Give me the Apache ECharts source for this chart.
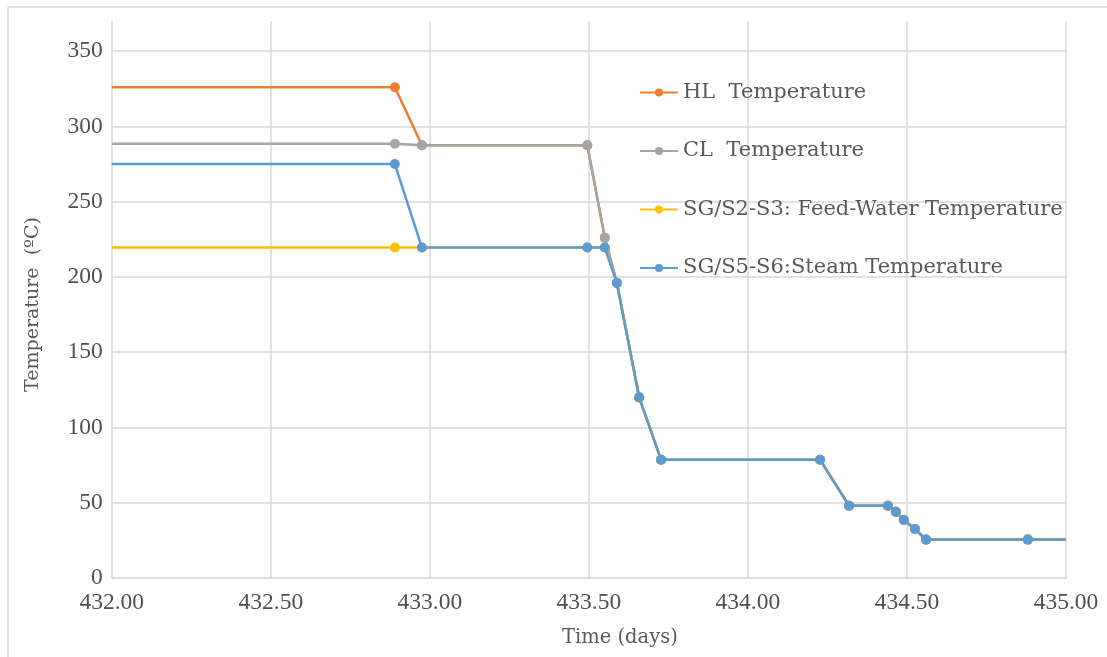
<!DOCTYPE html>
<html>
<head>
<meta charset="utf-8">
<script src="https://cdn.jsdelivr.net/npm/echarts@6/dist/echarts.min.js"></script>
<style>html,body{margin:0;padding:0;background:#fff}#c{width:1107px;height:657px}</style>
</head>
<body>
<div id="c"></div>
<script>
// Data
const time = [432.00, 432.89, 432.975, 433.495, 433.55, 433.588, 433.658, 433.727, 434.227, 434.318, 434.44, 434.465, 434.49, 434.525, 434.56, 434.88, 435.00];
const hlTemp    = [326, 326, 287.5, 287.5, 226, 196, 120, 78.5, 78.5, 48, 48, 44, 38.5, 32.5, 25.5, 25.5, 25.5];
const clTemp    = [288.5, 288.5, 287.5, 287.5, 226, 196, 120, 78.5, 78.5, 48, 48, 44, 38.5, 32.5, 25.5, 25.5, 25.5];
const feedTemp  = [219.5, 219.5, 219.5, 219.5, 219.5, 196, 120, 78.5, 78.5, 48, 48, 44, 38.5, 32.5, 25.5, 25.5, 25.5];
const steamTemp = [275, 275, 219.5, 219.5, 219.5, 196, 120, 78.5, 78.5, 48, 48, 44, 38.5, 32.5, 25.5, 25.5, 25.5];
const seriesNames = ['HL  Temperature', 'CL  Temperature', 'SG/S2-S3: Feed-Water Temperature', 'SG/S5-S6:Steam Temperature'];
const seriesColors = ['#ED7D31', '#A5A5A5', '#FFC000', '#5B9BD5'];
const xTicks = [432, 432.5, 433, 433.5, 434, 434.5, 435];
const yTicks = [0, 50, 100, 150, 200, 250, 300, 350];

const chart = echarts.init(document.getElementById('c'), null, {renderer: 'canvas'});
const serif = '"Liberation Serif", "DejaVu Serif", serif';
const wideSerif = '"DejaVu Serif", "Liberation Serif", serif';

function build(temps, idx) {
  return {
    name: seriesNames[idx],
    type: 'line',
    symbol: 'circle',
    symbolSize: 10,
    color: seriesColors[idx],
    lineStyle: {width: 2.5, color: seriesColors[idx]},
    itemStyle: {color: seriesColors[idx]},
    z: 2 + idx,
    data: time.map((t, i) => {
      const item = {value: [t, temps[i]]};
      if (i === 0 || i === time.length - 1) item.symbolSize = 0;
      return item;
    })
  };
}

const splitColors = yTicks.map(() => '#D9D9D9').concat(['rgba(0,0,0,0)']);

chart.setOption({
  backgroundColor: '#fff',
  animation: false,
  grid: {left: 111.8, right: 41, top: 21, bottom: 79},
  legend: {
    orient: 'vertical',
    left: 634,
    top: 77,
    itemWidth: 38,
    itemHeight: 10,
    itemGap: 37.5,
    textStyle: {fontFamily: wideSerif, fontSize: 21, color: '#595959'},
    data: seriesNames
  },
  xAxis: {
    type: 'value',
    min: xTicks[0],
    max: xTicks[xTicks.length - 1],
    interval: 0.5,
    name: 'Time (days)',
    nameLocation: 'middle',
    nameGap: 50,
    nameTextStyle: {fontFamily: wideSerif, fontSize: 19.5, color: '#595959', padding: [0, 0, 0, 62]},
    axisLine: {lineStyle: {color: '#D9D9D9', width: 1.5}},
    axisTick: {show: false},
    axisLabel: {fontFamily: serif, fontSize: 23.5, color: '#505050', margin: 13, formatter: v => v.toFixed(2)},
    splitLine: {show: true, lineStyle: {color: '#D9D9D9', width: 1.5}}
  },
  yAxis: {
    type: 'value',
    min: 0,
    max: 370,
    interval: 50,
    name: 'Temperature  (ºC)',
    nameLocation: 'middle',
    nameGap: 69,
    nameRotate: 90,
    nameTextStyle: {fontFamily: wideSerif, fontSize: 19, color: '#595959', padding: [0, 10, 0, 0]},
    axisLine: {show: false},
    axisTick: {show: false},
    axisLabel: {fontFamily: serif, fontSize: 23.5, color: '#505050', margin: 9, showMaxLabel: false},
    splitLine: {show: true, lineStyle: {color: splitColors, width: 1.5}}
  },
  series: [build(hlTemp, 0), build(clTemp, 1), build(feedTemp, 2), build(steamTemp, 3)],
  graphic: [
    {type: 'line', shape: {x1: 8, y1: 7, x2: 1107, y2: 7}, style: {stroke: '#D9D9D9', lineWidth: 1.5}, silent: true},
    {type: 'line', shape: {x1: 8, y1: 7, x2: 8, y2: 657}, style: {stroke: '#D9D9D9', lineWidth: 1.5}, silent: true}
  ]
});
</script>
</body>
</html>
